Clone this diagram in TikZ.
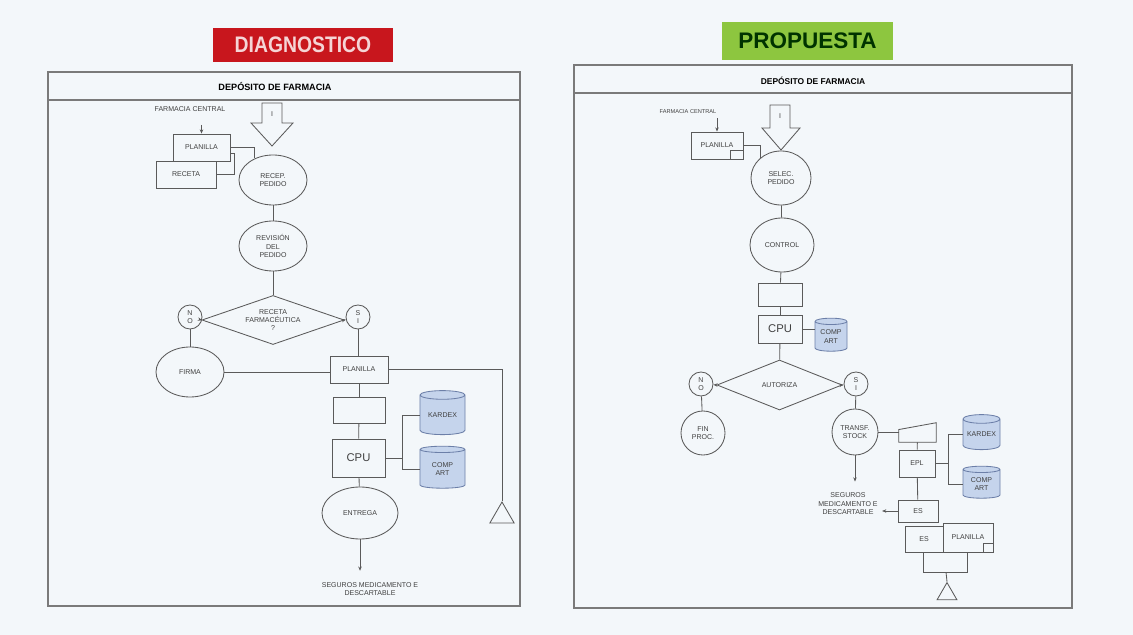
\documentclass[tikz,border=0pt]{standalone}
\usepackage{fontspec}
\setmainfont{Liberation Sans}
\usetikzlibrary{shapes.geometric,arrows.meta,positioning,calc}

\definecolor{fondo}{HTML}{F3F7FA}
\definecolor{linea}{HTML}{5A5A5A}
\definecolor{marco}{HTML}{7A7A7A}
\definecolor{rojo}{HTML}{C8161D}
\definecolor{verde}{HTML}{8DC63F}
\definecolor{celeste}{HTML}{C5D4EC}
\definecolor{azulborde}{HTML}{6C7FA8}

\tikzset{
  texto/.style={font=\fontsize{5}{6}\selectfont, text=black!75, align=center, inner sep=0pt},
  caja/.style={texto, draw=linea, fill=fondo, line width=0.6pt},
  proceso/.style={caja, ellipse},
  decision/.style={caja, diamond},
  conector/.style={caja, circle},
  basedatos/.style={texto, draw=azulborde, fill=celeste, cylinder, shape border rotate=90, aspect=0.3, line width=0.6pt},
  flujo/.style={draw=linea, line width=0.6pt},
  titulo/.style={font=\bfseries\fontsize{16}{18}\selectfont, inner sep=0pt},
  encabezado/.style={texto, text=black, font=\bfseries\fontsize{6.5}{8}\selectfont},
  fin/.style={draw=linea, fill=fondo, regular polygon, regular polygon sides=3, inner sep=0pt, line width=0.6pt},
}

\begin{document}
\begin{tikzpicture}[x=0.025cm, y=-0.025cm, >={Stealth[length=3pt,width=2.5pt]}]
        % Fondo
        \fill[fondo] (0,0) rectangle (1133,635);

        % Titulos
        \node[titulo, fill=rojo, text=white!82!rojo, minimum width=4.5cm, minimum height=0.85cm] (tDiag) at (303,45) {\scalebox{0.86}[1]{DIAGNOSTICO}};
        \node[titulo, fill=verde, text=black!80!green, minimum width=4.275cm, minimum height=0.95cm] (tProp) at (807.5,41) {PROPUESTA};

        % ---------------- Diagnostico ----------------
        \draw[marco, line width=0.9pt] (48,72) rectangle (520,606);
        \draw[marco, line width=0.9pt] (48,100) -- (520,100);
        \node[encabezado] (encL) at (275,86) {DEPÓSITO DE FARMACIA};

        \node[texto] (farmL) at (190,109) {FARMACIA CENTRAL};
        \node[caja, minimum width=1.5cm, minimum height=0.675cm] (recetaL) at (186,174.5) {RECETA};
        \node[caja, minimum width=1.425cm, minimum height=0.675cm] (planL) at (201.5,147.5) {PLANILLA};
        \draw[flujo, ->] (farmL.south -| planL.north) ++(0,13) -- (planL.north);

        % flecha de ingreso
        \draw[flujo, fill=fondo] (262,103) -- (282,103) -- (282,123) -- (293,123) -- (272,146) -- (251,123) -- (262,123) -- cycle;
        \node[texto] (ingL) at (272,114) {I};

        \node[proceso, minimum width=1.7cm, minimum height=1.25cm] (recepL) at (273,180) {RECEP.\\PEDIDO};
        \draw[flujo] (planL.east) -| (recepL.130);
        \draw[flujo] (recetaL.east) -- ++(18,0) |- ($(planL.east)!0.4!(planL.south east)$);

        \node[proceso, minimum width=1.7cm, minimum height=1.25cm] (revisL) at (273,246) {REVISIÓN\\DEL\\PEDIDO};
        \draw[flujo] (recepL) -- (revisL);

        \node[decision, aspect=2.9, minimum width=3.55cm, minimum height=1.225cm] (decL) at (273,320) {RECETA\\FARMACÉUTICA\\?};
        \draw[flujo] (revisL) -- (decL);

        \node[conector, minimum size=0.6cm] (noL) at (190,317) {N\\O};
        \node[conector, minimum size=0.6cm] (siL) at (358,317) {S\\I};
        \draw[flujo, ->] (decL.west) -- (noL);
        \draw[flujo, ->] (decL.east) -- (siL);

        \node[proceso, minimum width=1.7cm, minimum height=1.25cm] (firmaL) at (190,372) {FIRMA};
        \node[caja, minimum width=1.45cm, minimum height=0.675cm] (planL2) at (359,369.5) {PLANILLA};
        \draw[flujo] (noL) -- (firmaL);
        \draw[flujo] (siL) -- (siL |- planL2.north);
        \draw[flujo] (firmaL.east) -- (firmaL.east -| planL2.west);

        \node[fin, minimum size=0.7cm] (finL) at (502,516) {};
        \draw[flujo] (planL2.east) -| (finL.north);

        \node[caja, minimum width=1.3cm, minimum height=0.65cm] (manL) at (359,410) {};
        \node[caja, font=\fontsize{8}{9}\selectfont, minimum width=1.325cm, minimum height=0.95cm] (cpuL) at (358.5,458) {CPU};
        \draw[flujo] (planL2) -- (manL);
        \draw[flujo] (manL) -- (cpuL);

        \node[basedatos, minimum width=1.125cm, minimum height=1.1cm] (dbL1) at (442.5,415) {KARDEX};
        \node[basedatos, minimum width=1.125cm, minimum height=1.05cm] (dbL2) at (442.5,469) {COMP\\ART};
        \draw[flujo] (cpuL.east) -- ++(17,0) coordinate (bL);
        \draw[flujo] (dbL1.west) -| (bL) |- (dbL2.west);

        \node[proceso, minimum width=1.9cm, minimum height=1.3cm] (entL) at (360,513) {ENTREGA};
        \draw[flujo] (cpuL) -- (entL);
        \node[texto] (segL) at (370,589) {SEGUROS MEDICAMENTO E\\DESCARTABLE};
        \draw[flujo, ->, shorten >=8pt] (entL.south) -- (entL.south |- segL.north);

        % ---------------- Propuesta ----------------
        \draw[marco, line width=0.9pt] (574,65) rectangle (1072,608);
        \draw[marco, line width=0.9pt] (574,93) -- (1072,93);
        \node[encabezado, font=\bfseries\fontsize{6}{7}\selectfont] (encR) at (813,81) {DEPÓSITO DE FARMACIA};

        \node[texto, font=\fontsize{4}{5}\selectfont] (farmR) at (688,112) {FARMACIA CENTRAL};
        \node[caja, minimum width=1.3cm, minimum height=0.675cm] (planR) at (717,145.5) {PLANILLA};
        \draw[flujo] (planR.south east) rectangle ++(-13,-9);
        \draw[flujo, ->] (farmR.south -| planR.north) ++(0,4) -- (planR.north);

        \draw[flujo, fill=fondo] (770,105) -- (790,105) -- (790,128) -- (800,128) -- (781,150) -- (762,128) -- (770,128) -- cycle;
        \node[texto] (ingR) at (780,116) {I};

        \node[proceso, minimum width=1.5cm, minimum height=1.35cm] (selR) at (781,178) {SELEC.\\PEDIDO};
        \draw[flujo] (planR.east) -| (selR.135);
        \node[proceso, minimum width=1.6cm, minimum height=1.35cm] (ctrlR) at (782,245) {CONTROL};
        \draw[flujo] (selR) -- (ctrlR);

        \node[caja, minimum width=1.1cm, minimum height=0.575cm] (manR) at (780,294.5) {};
        \node[caja, font=\fontsize{8}{9}\selectfont, minimum width=1.1cm, minimum height=0.7cm] (cpuR) at (780,329) {CPU};
        \draw[flujo] (ctrlR) -- (manR);
        \draw[flujo] (manR) -- (cpuR);
        \node[basedatos, minimum width=0.8cm, minimum height=0.825cm] (dbR) at (831,336.5) {COMP\\ART};
        \draw[flujo] (cpuR.east) -- (cpuR.east -| dbR.west);

        \node[decision, aspect=2.5, minimum width=3.125cm, minimum height=1.25cm] (decR) at (779.5,385) {AUTORIZA};
        \draw[flujo] (cpuR) -- (decR);
        \node[conector, minimum size=0.6cm] (noR) at (701,384) {N\\O};
        \node[conector, minimum size=0.6cm] (siR) at (856,384) {S\\I};
        \draw[flujo, ->] (decR.west) -- (noR);
        \draw[flujo, ->] (decR.east) -- (siR);

        \node[conector, minimum size=1.1cm] (finR) at (703,433) {FIN\\PROC.};
        \node[conector, minimum size=1.15cm] (trR) at (855,432) {TRANSF.\\STOCK};
        \draw[flujo] (noR) -- (finR);
        \draw[flujo] (siR) -- (trR);

        % entrada manual
        \node[texto, minimum width=0.925cm, minimum height=0.475cm] (manR2) at (917.5,432.5) {};
        \draw[flujo, fill=fondo] (manR2.south west) -- (manR2.south east) -- (manR2.north east) -- ($(manR2.north west)!0.35!(manR2.south west)$) -- cycle;
        \draw[flujo] (trR.east) -- (trR.east -| manR2.west);

        \node[caja, minimum width=0.9cm, minimum height=0.675cm] (eplR) at (917,463.5) {EPL};
        \draw[flujo] (manR2) -- (eplR);
        \node[basedatos, minimum width=0.925cm, minimum height=0.875cm] (dbR1) at (981.5,434.5) {KARDEX};
        \node[basedatos, minimum width=0.925cm, minimum height=0.8cm] (dbR2) at (981.5,484) {COMP\\ART};
        \draw[flujo] (eplR.east) -- ++(13,0) coordinate (bR);
        \draw[flujo] (dbR1.west) -| (bR) |- (dbR2.west);

        \node[texto] (segR) at (848,504) {SEGUROS\\MEDICAMENTO E\\DESCARTABLE};
        \draw[flujo, ->, shorten >=8pt] (trR.south) -- (trR.south |- segR.north);

        \node[caja, minimum width=1cm, minimum height=0.55cm] (esR1) at (918,511) {ES};
        \draw[flujo] (eplR) -- (esR1);
        \draw[flujo, ->, shorten >=3pt] (esR1.west) -- (esR1.west -| segR.east);
        \node[caja, minimum width=0.95cm, minimum height=0.65cm] (esR2) at (924,539) {ES};
        \node[caja, minimum width=1.25cm, minimum height=0.725cm] (planR2) at (968,537.5) {PLANILLA};
        \draw[flujo] (planR2.south east) rectangle ++(-10,-9);
        \node[caja, minimum width=1.1cm, minimum height=0.5cm] (botR) at (945,562) {};

        \node[fin, minimum size=0.57cm] (finR2) at (947,594) {};
        \draw[flujo] (botR) -- (finR2.north);
\end{tikzpicture}
\end{document}
